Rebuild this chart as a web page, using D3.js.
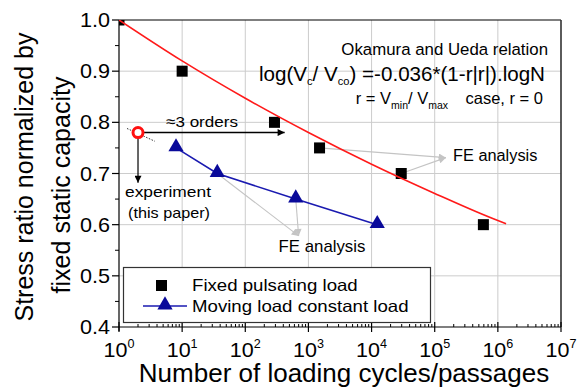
<!DOCTYPE html>
<html>
<head>
<meta charset="utf-8">
<script src="https://cdn.jsdelivr.net/npm/d3@7/dist/d3.min.js"></script>
<style>
  html, body { margin: 0; padding: 0; background: #fff; }
  svg { display: block; font-family: "Liberation Sans", Arial, Helvetica, sans-serif; }
</style>
</head>
<body>
<svg id="chart" width="584" height="388"></svg>
<script>
// Fixed pulsating load (FE analysis)
const fixedCycles = [1, 10, 290, 1500, 29500, 590000];
const fixedRatio  = [1.00, 0.90, 0.80, 0.75, 0.70, 0.60];

// Moving load, constant load (FE analysis)
const movingCycles = [8, 36, 630, 12300];
const movingRatio  = [0.75, 0.70, 0.65, 0.60];

// Okamura and Ueda relation, r = 0
const okamuraCycles = [1, 10, 100, 1000, 10000, 100000, 1000000, 1350000];
const okamuraRatio  = [1.000, 0.920, 0.847, 0.780, 0.718, 0.661, 0.608, 0.602];

// Experiment (this paper)
const expCycles = [2];
const expRatio  = [0.78];

// Axis ticks
const xTickExponents = [0, 1, 2, 3, 4, 5, 6, 7];
const yTickValues = [0.4, 0.5, 0.6, 0.7, 0.8, 0.9, 1.0];

const svg = d3.select("#chart");
const plotL = 119, plotR = 561, plotT = 20, plotB = 327;

const x = d3.scaleLog().domain([1, 1e7]).range([plotL, plotR]);
const y = d3.scaleLinear().domain([0.4, 1.0]).range([plotB, plotT]);

const defs = svg.append("defs");
defs.append("clipPath").attr("id", "plotClip")
  .append("rect").attr("x", plotL).attr("y", plotT)
  .attr("width", plotR - plotL).attr("height", plotB - plotT);

function marker(id, color, w, h) {
  defs.append("marker").attr("id", id)
    .attr("viewBox", "0 0 10 10").attr("refX", 10).attr("refY", 5)
    .attr("markerWidth", w).attr("markerHeight", h)
    .attr("markerUnits", "userSpaceOnUse")
    .attr("orient", "auto")
    .append("path").attr("d", "M0,0 L10,5 L0,10 Z").attr("fill", color);
}
marker("arrowBlack", "#000", 14, 7);
marker("arrowGray", "#c4c4c4", 12, 7);

// text helper: anchored at (px, py), optionally widened horizontally by sx
function label(parent, px, py, str, size, anchor = "start", sx = 1) {
  return parent.append("text")
    .attr("transform", `translate(${px},${py}) scale(${sx},1)`)
    .attr("text-anchor", anchor).attr("font-size", size).attr("fill", "#000")
    .text(str);
}

// grid lines
const grid = svg.append("g").attr("stroke", "#cccccc").attr("stroke-width", 1);
xTickExponents.slice(1, -1).forEach(e => {
  grid.append("line").attr("x1", x(10 ** e)).attr("x2", x(10 ** e))
    .attr("y1", plotT).attr("y2", plotB);
});
yTickValues.slice(1, -1).forEach(v => {
  grid.append("line").attr("x1", plotL).attr("x2", plotR)
    .attr("y1", y(v)).attr("y2", y(v));
});

// frame: top and right
svg.append("line").attr("x1", plotL).attr("x2", plotR).attr("y1", plotT).attr("y2", plotT)
  .attr("stroke", "#000").attr("stroke-width", 1.2);
svg.append("line").attr("x1", plotR).attr("x2", plotR).attr("y1", plotT).attr("y2", plotB)
  .attr("stroke", "#333").attr("stroke-width", 1.6);

// x axis
const xAxisG = svg.append("g").attr("transform", `translate(0,${plotB})`);
xAxisG.append("line").attr("x1", plotL).attr("x2", plotR).attr("y1", 0).attr("y2", 0)
  .attr("stroke", "#000").attr("stroke-width", 1.2);
xTickExponents.forEach(e => {
  xAxisG.append("line").attr("x1", x(10 ** e)).attr("x2", x(10 ** e))
    .attr("y1", -5).attr("y2", 5).attr("stroke", "#000").attr("stroke-width", 1.2);
  if (e < 7) {
    for (let m = 2; m <= 9; m++) {
      const xv = x(m * 10 ** e);
      xAxisG.append("line").attr("x1", xv).attr("x2", xv)
        .attr("y1", -3).attr("y2", 0).attr("stroke", "#000").attr("stroke-width", 1);
    }
  }
  const t = label(xAxisG, x(10 ** e), 30, "", 20.5, "middle", 1.05);
  t.append("tspan").text("10");
  t.append("tspan").attr("dy", -9).attr("font-size", 12).text(e);
});

// y axis
const yAxisG = svg.append("g");
yAxisG.append("line").attr("x1", plotL).attr("x2", plotL).attr("y1", plotT).attr("y2", plotB + 4)
  .attr("stroke", "#000").attr("stroke-width", 1.2);
yTickValues.forEach((v, i) => {
  yAxisG.append("line").attr("x1", plotL - 7).attr("x2", plotL).attr("y1", y(v)).attr("y2", y(v))
    .attr("stroke", "#000").attr("stroke-width", 1.2);
  if (i < yTickValues.length - 1) {
    const mv = y(v + 0.05);
    yAxisG.append("line").attr("x1", plotL - 4).attr("x2", plotL).attr("y1", mv).attr("y2", mv)
      .attr("stroke", "#000").attr("stroke-width", 1);
  }
  label(yAxisG, plotL - 9, y(v) + 7, d3.format(".1f")(v), 20, "end", 1.08);
});

// axis titles
label(svg, 344, 382, "Number of loading cycles/passages", 25, "middle", 1.04);
svg.append("text").attr("transform", "translate(33,177) rotate(-90)")
  .attr("text-anchor", "middle").attr("font-size", 25).attr("fill", "#000")
  .text("Stress ratio normalized by");
svg.append("text").attr("transform", "translate(70,185) rotate(-90)")
  .attr("text-anchor", "middle").attr("font-size", 25).attr("fill", "#000")
  .text("fixed static capacity");

// gray annotation arrows (FE analysis)
const feLowTip = [700, 0.578];
const feHighTip = [150000, 0.731];
const gray = svg.append("g").attr("stroke", "#c4c4c4").attr("stroke-width", 1.1).attr("fill", "none");
[[movingCycles[1], movingRatio[1]], [movingCycles[2], movingRatio[2]]].forEach(p => {
  gray.append("line").attr("x1", x(p[0])).attr("y1", y(p[1]))
    .attr("x2", x(feLowTip[0])).attr("y2", y(feLowTip[1]))
    .attr("marker-end", "url(#arrowGray)");
});
[[fixedCycles[3], fixedRatio[3]], [fixedCycles[4], fixedRatio[4]]].forEach(p => {
  gray.append("line").attr("x1", x(p[0])).attr("y1", y(p[1]))
    .attr("x2", x(feHighTip[0])).attr("y2", y(feHighTip[1]))
    .attr("marker-end", "url(#arrowGray)");
});
label(svg, 322, 252, "FE analysis", 16, "middle", 1.05);
label(svg, 453, 161, "FE analysis", 16, "start", 1.02);

// moving load series
const movingData = movingCycles.map((c, i) => [c, movingRatio[i]]);
svg.append("path").datum(movingData)
  .attr("d", d3.line().x(d => x(d[0])).y(d => y(d[1])))
  .attr("fill", "none").attr("stroke", "#1a1ab0").attr("stroke-width", 1.6);
const tri = d3.symbol().type(d3.symbolTriangle).size(100);
svg.append("g").selectAll("path").data(movingData).join("path")
  .attr("d", tri).attr("transform", d => `translate(${x(d[0])},${y(d[1]) - 1})`)
  .attr("fill", "#0a0a9a");

// fixed pulsating series (squares)
const fixedData = fixedCycles.map((c, i) => [c, fixedRatio[i]]);
svg.append("g").attr("clip-path", "url(#plotClip)")
  .selectAll("rect").data(fixedData).join("rect")
  .attr("x", d => x(d[0]) - 5.5).attr("y", d => y(d[1]) - 5.5)
  .attr("width", 11).attr("height", 11).attr("fill", "#000");

// Okamura and Ueda curve
const okaData = okamuraCycles.map((c, i) => [c, okamuraRatio[i]]);
svg.append("path").datum(okaData)
  .attr("clip-path", "url(#plotClip)")
  .attr("d", d3.line().x(d => x(d[0])).y(d => y(d[1])).curve(d3.curveMonotoneX))
  .attr("fill", "none").attr("stroke", "#ff1a1a").attr("stroke-width", 1.6);

// experiment marker and its annotations
const ex = x(expCycles[0]), ey = y(expRatio[0]);
svg.append("line").attr("x1", x(1.34)).attr("y1", y(0.788)).attr("x2", x(3.7)).attr("y2", y(0.763))
  .attr("stroke", "#333").attr("stroke-width", 1).attr("stroke-dasharray", "1.5,1.5");
svg.append("line").attr("x1", ex).attr("y1", ey).attr("x2", x(420)).attr("y2", ey)
  .attr("stroke", "#000").attr("stroke-width", 1.4).attr("marker-end", "url(#arrowBlack)");
svg.append("line").attr("x1", ex).attr("y1", ey).attr("x2", ex).attr("y2", y(0.682))
  .attr("stroke", "#000").attr("stroke-width", 1.2).attr("marker-end", "url(#arrowBlack)");
svg.selectAll("circle.exp").data(expCycles).join("circle").attr("class", "exp")
  .attr("cx", d => x(d)).attr("cy", (d, i) => y(expRatio[i])).attr("r", 5)
  .attr("fill", "#fff").attr("stroke", "#ff1010").attr("stroke-width", 3);
label(svg, 202, 127, "\u22483 orders", 15.5, "middle", 1.1);
label(svg, 168, 197, "experiment", 15, "middle", 1.16);
label(svg, 169, 218, "(this paper)", 15, "middle", 1.08);

// relation text
label(svg, 548, 55, "Okamura and Ueda relation", 16.5, "end", 1.02);
const f = svg.append("text").attr("x", 259).attr("y", 81)
  .attr("text-anchor", "start").attr("font-size", 19.5).attr("fill", "#000")
  .attr("textLength", 286).attr("lengthAdjust", "spacingAndGlyphs");
f.append("tspan").text("log(V");
f.append("tspan").attr("dy", 4).attr("font-size", 10.5).text("c");
f.append("tspan").attr("dy", -4).text("/ V");
f.append("tspan").attr("dy", 4).attr("font-size", 10.5).text("co");
f.append("tspan").attr("dy", -4).text(") =-0.036*(1-r|r|).logN");

const r = label(svg, 448, 104, "", 16.5, "end", 1.0);
r.append("tspan").text("r = V");
r.append("tspan").attr("dy", 5).attr("font-size", 10.5).text("min");
r.append("tspan").attr("dy", -5).text("/ V");
r.append("tspan").attr("dy", 5).attr("font-size", 10.5).text("max");
label(svg, 543, 104, "case, r = 0", 16.5, "end", 1.0);

// legend
const lg = svg.append("g");
lg.append("rect").attr("x", 123.5).attr("y", 267.5).attr("width", 307).attr("height", 55)
  .attr("fill", "#fff").attr("stroke", "#333").attr("stroke-width", 1.2);
lg.append("rect").attr("x", 156).attr("y", 280).attr("width", 11).attr("height", 11).attr("fill", "#000");
label(lg, 192, 291, "Fixed pulsating load", 16.5, "start", 1.13);
lg.append("line").attr("x1", 143).attr("x2", 187).attr("y1", 306).attr("y2", 306)
  .attr("stroke", "#1a1ab0").attr("stroke-width", 1.6);
lg.append("path").attr("d", tri).attr("transform", "translate(165,305)").attr("fill", "#0a0a9a");
label(lg, 192, 312, "Moving load constant load", 16.5, "start", 1.13);
</script>
</body>
</html>
